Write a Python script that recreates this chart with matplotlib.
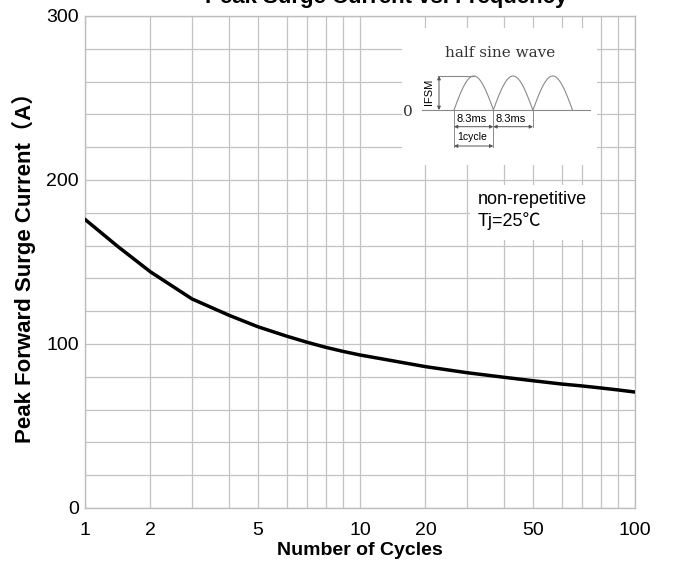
import numpy as np
import matplotlib
matplotlib.use("Agg")
import matplotlib.pyplot as plt
from matplotlib.ticker import FixedLocator, NullFormatter, FixedFormatter

plt.rcParams['font.family'] = ['Liberation Sans', 'Noto Sans CJK SC', 'DejaVu Sans']

# ---------------- data ----------------
cycles = [1, 1.5, 2, 3, 4, 5, 6, 7, 8, 9, 10, 20, 30, 40, 50, 60, 70, 80, 90, 100]
current = [176, 159.5, 144, 127.5, 117.5, 110.5, 104.8, 101, 98, 95.5, 93.3,
           86.2, 82.5, 79.7, 77.6, 75.6, 74.4, 73.2, 72, 70.7]

x_major = [1, 2, 5, 10, 20, 50, 100]
x_major_labels = ['1', '2', '5', '10', '20', '50', '100']
x_minor = [3, 4, 6, 7, 8, 9, 30, 40, 60, 70, 80, 90]
y_major = [0, 100, 200, 300]
y_major_labels = ['0', '100', '200', '300']
y_minor = list(range(20, 300, 20))

title_text = "Peak Surge Current vs. Frequency"
xlabel_text = "Number of Cycles"
ylabel_text = "Peak Forward Surge Current（A）"
note1 = "non-repetitive"
note2 = "Tj=25℃"

# ------------- chart-paper scale (each decade with the printed spacing) -------------
MANT = np.array([1, 2, 3, 4, 5, 6, 7, 8, 9, 10], float)
FRAC = np.array([0, .238, .389, .524, .629, .733, .809, .875, .938, 1.0])


def fwd(x):
    x = np.asarray(x, float)
    xs = np.where(x > 0, x, 1e-300)
    d = np.floor(np.log10(xs))
    m = xs / 10.0 ** d
    return d + np.interp(m, MANT, FRAC)


def inv(y):
    y = np.asarray(y, float)
    d = np.floor(y)
    m = np.interp(y - d, FRAC, MANT)
    return m * 10.0 ** d


W, H = 676, 562
fig = plt.figure(figsize=(W / 100, H / 100), dpi=100)
ax = fig.add_axes([85 / W, 1 - 508 / H, 550 / W, 492 / H])
ax.set_xscale('function', functions=(fwd, inv))
ax.set_xlim(1, 100)
ax.set_ylim(0, 300)

ax.xaxis.set_major_locator(FixedLocator(x_major))
ax.xaxis.set_major_formatter(FixedFormatter(x_major_labels))
ax.xaxis.set_minor_locator(FixedLocator(x_minor))
ax.xaxis.set_minor_formatter(NullFormatter())
ax.yaxis.set_major_locator(FixedLocator(y_major))
ax.yaxis.set_major_formatter(FixedFormatter(y_major_labels))
ax.yaxis.set_minor_locator(FixedLocator(y_minor))

gc = '#c3c3c3'
ax.grid(True, which='both', color=gc, lw=0.9)
ax.set_axisbelow(True)
for s in ax.spines.values():
    s.set_color('#bdbdbd')
    s.set_linewidth(1.0)
ax.tick_params(which='both', length=0)
ax.tick_params(axis='x', pad=10, labelsize=14)
ax.tick_params(axis='y', pad=4.5, labelsize=14)

ax.plot(cycles, current, color='black', lw=2.5, solid_capstyle='round',
        solid_joinstyle='round', zorder=3)

ax.set_xlabel(xlabel_text, fontsize=14, fontweight='bold', va='top')
ax.xaxis.set_label_coords(0.5, -(542 - 508) / 492)
ax.set_ylabel(ylabel_text, fontsize=16, fontweight='bold', va='center')
ax.yaxis.set_label_coords((24 - 85) / 550, 0.5)

fig.text(386 / W, 1 - 3 / H, title_text, ha='center', va='baseline',
         fontsize=16, fontweight='bold')

# ---------------- inset: half sine wave sketch ----------------
x0, x1, y0, y1 = 402, 597, 28, 165
iax = fig.add_axes([x0 / W, 1 - y1 / H, (x1 - x0) / W, (y1 - y0) / H])
iax.set_xlim(x0, x1)
iax.set_ylim(y1, y0)
iax.set_facecolor('white')
iax.set_xticks([])
iax.set_yticks([])
for s in iax.spines.values():
    s.set_visible(False)

lc = '#8a8a8a'
iax.text(500, 53, "half sine wave", ha='center', va='center',
         family='DejaVu Serif', fontsize=11, color='#333333')
iax.text(408, 112, "0", ha='center', va='center', family='DejaVu Serif',
         fontsize=11, color='#333333')
iax.plot([422, 590], [110, 110], color=lc, lw=0.8)
for a in (454, 493.3, 533):
    xs = np.linspace(a, a + 39.5, 60)
    iax.plot(xs, 110 - 34 * np.sin(np.pi * (xs - a) / 39.5), color=lc, lw=0.8)
iax.plot([438, 474], [76, 76], color=lc, lw=0.8)
aprops = dict(arrowstyle='<|-|>', color='#555555', lw=0.7, mutation_scale=5,
              shrinkA=0, shrinkB=0)
iax.annotate('', xy=(439, 76), xytext=(439, 110), arrowprops=aprops)
iax.text(429, 92, "IFSM", rotation=90, ha='center', va='center', fontsize=8)
iax.plot([454, 454], [110, 147], color=lc, lw=0.7)
iax.plot([493.3, 493.3], [110, 147], color=lc, lw=0.7)
iax.plot([533, 533], [110, 127], color=lc, lw=0.7)
iax.annotate('', xy=(454, 126.7), xytext=(493.3, 126.7), arrowprops=aprops)
iax.annotate('', xy=(493.3, 126.7), xytext=(533, 126.7), arrowprops=aprops)
iax.annotate('', xy=(454, 146), xytext=(493.3, 146), arrowprops=aprops)
iax.text(472, 119.5, "8.3ms", ha='center', va='center', fontsize=8)
iax.text(511, 119.5, "8.3ms", ha='center', va='center', fontsize=8)
iax.text(472, 137, "1cycle", ha='center', va='center', fontsize=7.5)

# ---------------- note box ----------------
bx0, bx1, by0, by1 = 470, 600, 185, 240
nax = fig.add_axes([bx0 / W, 1 - by1 / H, (bx1 - bx0) / W, (by1 - by0) / H])
nax.set_xlim(bx0, bx1)
nax.set_ylim(by1, by0)
nax.set_facecolor('white')
nax.set_xticks([])
nax.set_yticks([])
for s in nax.spines.values():
    s.set_visible(False)
nax.text(478, 200, note1, ha='left', va='center', fontsize=13)
nax.text(478, 221, note2, ha='left', va='center', fontsize=13)

fig.savefig("out.png", dpi=100)
